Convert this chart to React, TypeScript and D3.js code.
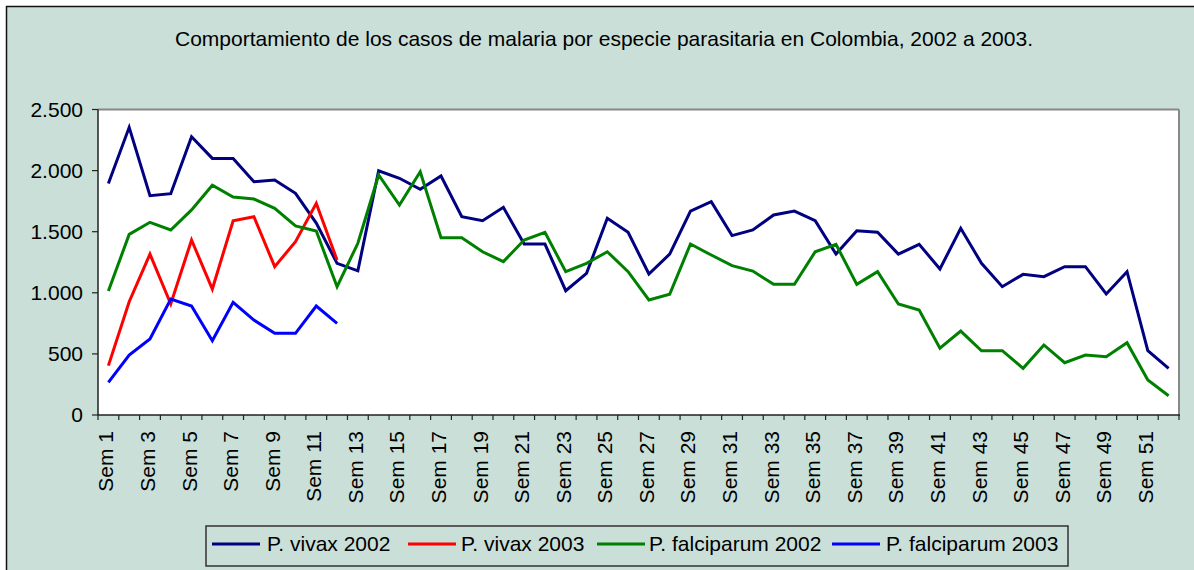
import React from "react";
import * as d3 from "d3";

const weeks: string[] = Array.from({ length: 52 }, (_, i) => `Sem ${i + 1}`);

const vivax2002: number[] = [
  1895, 2354, 1795, 1811, 2277, 2100, 2100, 1909, 1923, 1814,
  1570, 1241, 1180, 1999, 1937, 1847, 1956, 1623, 1590, 1700,
  1399, 1399, 1017, 1159, 1610, 1495, 1154, 1317, 1669, 1746,
  1468, 1514, 1637, 1669, 1590, 1317, 1508, 1495, 1317, 1397,
  1195, 1528, 1241, 1050, 1151, 1132, 1214, 1214, 990, 1173,
  526, 382,
];

const vivax2003: number[] = [
  404, 927, 1317, 908, 1432, 1031, 1590, 1623, 1214, 1418, 1732, 1268,
];

const falciparum2002: number[] = [
  1015, 1478, 1577, 1514, 1678, 1880, 1784, 1767, 1691, 1547,
  1505, 1050, 1405, 1964, 1718, 1991, 1451, 1451, 1336, 1255,
  1432, 1495, 1173, 1241, 1336, 1173, 941, 988, 1399, 1309,
  1222, 1178, 1069, 1069, 1336, 1397, 1069, 1173, 908, 859,
  546, 687, 526, 526, 382, 573, 428, 491, 477, 592,
  286, 158,
];

const falciparum2003: number[] = [
  267, 491, 622, 949, 892, 608, 922, 777, 668, 668, 892, 750,
];

const seriesNames: string[] = [
  "P. vivax 2002",
  "P. vivax 2003",
  "P. falciparum 2002",
  "P. falciparum 2003",
];
const seriesColors: string[] = ["#000080", "#FF0000", "#008000", "#0000FF"];
const seriesData: number[][] = [vivax2002, vivax2003, falciparum2002, falciparum2003];

const yTicks: number[] = [0, 500, 1000, 1500, 2000, 2500];
const title =
  "Comportamiento de los casos de malaria por especie parasitaria en Colombia, 2002 a 2003.";

const W = 1194;
const H = 570;
const BG = "#C9DFD8";
const FONT = "'Liberation Sans', Arial, sans-serif";
const FS = 21;

export default function App() {
  const x = d3.scaleBand<string>().domain(weeks).range([98, 1179]).padding(0);
  const y = d3.scaleLinear().domain([0, 2500]).range([415, 109.5]);
  const cx = (i: number) => (x(weeks[i]) as number) + x.bandwidth() / 2;
  const line = d3
    .line<number>()
    .x((_, i) => cx(i))
    .y((d) => y(d));

  const fmt = (v: number) => d3.format(",")(v).replace(/,/g, ".");

  const [x0, x1] = x.range();
  const [yb, yt] = y.range();

  const boundaries = d3.range(0, weeks.length + 1).map((i) => x0 + i * x.bandwidth());

  const legendItems = [
    { lx: 212, tx: 267 },
    { lx: 408, tx: 461 },
    { lx: 597, tx: 649 },
    { lx: 832, tx: 886 },
  ];

  return (
    <svg
      width={W}
      height={H}
      style={{ position: "absolute", left: 0, top: 0, display: "block" }}
      fontFamily={FONT}
    >
      <rect x={0} y={0} width={W} height={H} fill="#FFFFFF" />
      <rect x={6} y={6} width={W} height={H} fill={BG} />
      <line x1={6} y1={6.5} x2={W} y2={6.5} stroke="#111" strokeWidth={1.5} />
      <line x1={6.5} y1={6} x2={6.5} y2={H} stroke="#111" strokeWidth={1.5} />

      <text x={604} y={46} textAnchor="middle" fontSize={FS} fill="#000">
        {title}
      </text>

      {/* plot area */}
      <rect x={x0} y={yt} width={x1 - x0} height={yb - yt} fill="#FFFFFF" />
      <line x1={x0} y1={yt} x2={x1} y2={yt} stroke="#888" strokeWidth={2} />
      <line x1={x1} y1={yt} x2={x1} y2={yb} stroke="#888" strokeWidth={2} />
      <line x1={x0} y1={yt} x2={x0} y2={yb} stroke="#222" strokeWidth={1.5} />
      <line x1={x0} y1={yb} x2={x1 + 1} y2={yb} stroke="#222" strokeWidth={1.5} />

      {/* y axis */}
      {yTicks.map((t) => (
        <g key={`y${t}`}>
          <line x1={92} x2={x0} y1={y(t)} y2={y(t)} stroke="#222" strokeWidth={1.2} />
          <text x={83} y={y(t)} dy="0.35em" textAnchor="end" fontSize={FS} fill="#000">
            {fmt(t)}
          </text>
        </g>
      ))}

      {/* x axis */}
      {boundaries.map((b, i) => (
        <line key={`xt${i}`} x1={b} x2={b} y1={yb} y2={yb + 5} stroke="#222" strokeWidth={1.2} />
      ))}
      {weeks.map((w, i) =>
        i % 2 === 0 ? (
          <text
            key={w}
            transform={`translate(${cx(i) + 5},${431}) rotate(-90)`}
            textAnchor="end"
            fontSize={FS}
            fill="#000"
          >
            {w}
          </text>
        ) : null
      )}

      {/* series */}
      {seriesData.map((d, si) => (
        <path
          key={seriesNames[si]}
          d={line(d) as string}
          fill="none"
          stroke={seriesColors[si]}
          strokeWidth={3}
          strokeLinejoin="miter"
        />
      ))}

      {/* legend */}
      <rect x={206} y={526} width={862} height={40} fill={BG} stroke="#333" strokeWidth={1.5} />
      {seriesNames.map((n, i) => (
        <g key={`lg${n}`}>
          <line
            x1={legendItems[i].lx}
            x2={legendItems[i].lx + 48}
            y1={544}
            y2={544}
            stroke={seriesColors[i]}
            strokeWidth={3}
          />
          <text x={legendItems[i].tx} y={551} fontSize={FS} fill="#000">
            {n}
          </text>
        </g>
      ))}
    </svg>
  );
}
